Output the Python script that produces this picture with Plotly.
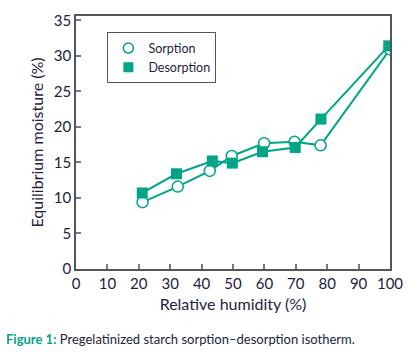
import plotly.graph_objects as go

rh_sorption = [21.2, 32.4, 42.6, 49.6, 59.9, 69.6, 77.9, 100]
moist_sorption = [9.4, 11.6, 13.8, 15.9, 17.7, 17.9, 17.4, 30.9]
rh_desorption = [21.1, 32.0, 43.4, 49.8, 59.4, 69.8, 78.0, 99.6]
moist_desorption = [10.7, 13.4, 15.2, 14.9, 16.5, 17.1, 21.1, 31.4]
x_ticks = [0, 10, 20, 30, 40, 50, 60, 70, 80, 90, 100]
y_ticks = [0, 5, 10, 15, 20, 25, 30, 35]

teal = "#00A587"
txt = "#1c2340"
font_family = "Lato, 'Open Sans', sans-serif"

circle_marker = dict(symbol="circle", size=11, color="white", line=dict(color=teal, width=1.5))
square_marker = dict(symbol="square", size=11, color=teal, line=dict(color=teal, width=0))

fig = go.Figure()
fig.add_trace(go.Scatter(
    x=rh_sorption, y=moist_sorption, name="Sorption", mode="lines+markers",
    line=dict(color=teal, width=2), marker=circle_marker, showlegend=False,
))
fig.add_trace(go.Scatter(
    x=rh_desorption, y=moist_desorption, name="Desorption", mode="lines+markers",
    line=dict(color=teal, width=2), marker=square_marker, showlegend=False,
))
# legend entries (marker only, as in the reference)
fig.add_trace(go.Scatter(x=[None], y=[None], name="Sorption", mode="markers",
                         marker=dict(circle_marker, size=10)))
fig.add_trace(go.Scatter(x=[None], y=[None], name="Desorption", mode="markers",
                         marker=dict(square_marker, size=10)))

axis_common = dict(
    showline=True, linecolor="#555555", linewidth=1.5, mirror=True,
    ticks="inside", ticklen=5, tickcolor="#777777", tickwidth=1.5,
    showgrid=False, zeroline=False,
    tickfont=dict(family=font_family, size=15, color=txt),
)
fig.update_xaxes(range=[0, 100], tickvals=x_ticks, **axis_common,
                 title=dict(text="Relative humidity (%)", font=dict(family=font_family, size=16, color=txt), standoff=8))
fig.update_yaxes(range=[0, 35.6], tickvals=y_ticks, **axis_common,
                 title=dict(text="Equilibrium moisture (%)", font=dict(family=font_family, size=16, color=txt), standoff=6))

fig.update_layout(
    width=414, height=352,
    margin=dict(l=76, r=17, t=11, b=83),
    plot_bgcolor="white", paper_bgcolor="white",
    showlegend=True,
    legend=dict(x=0.1, y=0.935, xanchor="left", yanchor="top",
                bgcolor="white", bordercolor="#555555", borderwidth=1,
                font=dict(family=font_family, size=12.5, color=txt),
                itemwidth=30, tracegroupgap=0),
    annotations=[dict(
        text="<b><span style='color:%s'>Figure 1:</span></b> Pregelatinized starch sorption–desorption isotherm." % teal,
        xref="paper", yref="paper", x=-0.228, y=-0.275, xanchor="left", yanchor="middle",
        showarrow=False, font=dict(family=font_family, size=13, color=txt),
    )],
)

fig.write_html("out.html")
